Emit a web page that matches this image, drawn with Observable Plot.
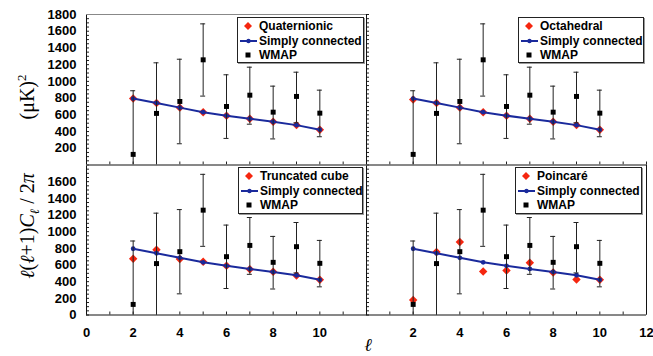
<!DOCTYPE html>
<html><head><meta charset="utf-8">
<script src="https://cdn.jsdelivr.net/npm/d3@7"></script>
<script src="https://cdn.jsdelivr.net/npm/@observablehq/plot@0.6"></script>
<style>
body{margin:0;background:#fff;}
#wrap{position:relative;width:653px;height:356px;overflow:hidden;font-family:"Liberation Sans",Arial,sans-serif;}
#wrap svg.p{position:absolute;left:0;top:0;background:transparent !important;overflow:visible;font-weight:bold;font-size:13px;}
.legend{position:absolute;border:1px solid #222;box-shadow:1px 1px 0 #999;background:#fff;font-weight:bold;font-size:12px;box-sizing:border-box;color:#000;}
.row{position:absolute;left:0;height:14px;line-height:14px;white-space:nowrap;display:flex;align-items:center;}
.row svg{display:block;flex:none;}
.ytitle{position:absolute;font-family:"Liberation Serif","Times New Roman",serif;font-size:20px;line-height:22px;white-space:nowrap;transform:translate(-50%,-50%) rotate(-90deg);color:#000;}
.xtitle{position:absolute;font-family:"Liberation Serif","Times New Roman",serif;font-style:italic;font-size:18px;line-height:18px;transform:translate(-50%,-50%);}
</style>
</head><body>
<div id="wrap"></div>
<script>
// ---- data ----
const ell = [2, 3, 4, 5, 6, 7, 8, 9, 10];
const simplyConnected = [795, 742, 686, 632, 590, 553, 517, 477, 422];
const quaternionic = [795, 742, 686, 632, 590, 553, 517, 477, 422];
const octahedral = [782, 742, 686, 632, 590, 553, 517, 477, 422];
const truncatedCube = [675, 784, 671, 640, 591, 550, 519, 474, 422];
const poincare = [181, 755, 876, 522, 534, 627, 510, 426, 424];
const wmap = [127, 617, 760, 1258, 700, 835, 632, 820, 620];
const wmapHi = [888, 1222, 1265, 1688, 1079, 1170, 943, 1110, 895];
const wmapLo = [0, 0, 254, 824, 318, 488, 312, 505, 338];
const yTicksTop = [200, 400, 600, 800, 1000, 1200, 1400, 1600, 1800];
const yTicksBottom = [0, 200, 400, 600, 800, 1000, 1200, 1400, 1600];
const xTicksLeft = [0, 2, 4, 6, 8, 10];
const xTicksRight = [2, 4, 6, 8, 10, 12];
const yMinor = d3.range(0, 1801, 50);
const xMinor = d3.range(0, 13, 1);
const modelNames = ["Quaternionic", "Octahedral", "Truncated cube", "Poincaré"];

const RED = "#f5260f", BLUE = "#1a2a9c";
const W = 653, H = 356;
const wrap = document.getElementById("wrap");

function panel(model, o) {
  const rows = ell.map((l, i) => ({l, sc: simplyConnected[i], m: model[i], w: wmap[i], hi: wmapHi[i], lo: wmapLo[i]}));
  const fw = W - o.ml - o.mr, fh = H - o.mt - o.mb;
  const marks = [
    Plot.tickY(yMinor, {y: d => d, insetRight: fw - 3, stroke: "#222"}),
    Plot.tickX(xMinor, {x: d => d, insetTop: fh - 3, stroke: "#222"}),
    Plot.ruleX(o.vlines, {stroke: "#111"}),
    Plot.ruleY([0], {stroke: "#111"}),
  ];
  if (o.top) marks.push(Plot.ruleY([1800], {stroke: "#888"}));
  if (o.yTicks) marks.push(Plot.axisY({anchor: "left", ticks: o.yTicks, tickFormat: d => String(d), tickSize: 0, tickPadding: 10, label: null, fontSize: 13, fontWeight: "bold"}));
  if (o.xTicks) marks.push(Plot.axisX({anchor: "bottom", ticks: o.xTicks, tickFormat: d => String(d), tickSize: 0, tickPadding: 13, label: null, fontSize: 13, fontWeight: "bold"}));
  marks.push(
    Plot.dot(rows, {x: "l", y: "m", symbol: "diamond2", r: 3.8, fill: RED}),
    Plot.line(rows, {x: "l", y: "sc", stroke: BLUE, strokeWidth: 2}),
    Plot.dot(rows, {x: "l", y: "sc", r: 2.4, fill: BLUE}),
    Plot.ruleX(rows, {x: "l", y1: "lo", y2: "hi", stroke: "#222", strokeWidth: 1}),
    Plot.ruleY(rows, {y: "hi", x1: "l", x2: "l", insetLeft: -2.5, insetRight: -2.5, stroke: "#222"}),
    Plot.ruleY(rows.filter(d => d.lo > 0), {y: "lo", x1: "l", x2: "l", insetLeft: -2.5, insetRight: -2.5, stroke: "#222"}),
    Plot.dot(rows, {x: "l", y: "w", symbol: "square", r: 2.8, fill: "#000"})
  );
  const svg = Plot.plot({
    width: W, height: H,
    marginLeft: o.ml, marginRight: o.mr, marginTop: o.mt, marginBottom: o.mb,
    x: {domain: [0, 12], axis: null},
    y: {domain: [0, 1800], axis: null},
    style: {fontFamily: "'Liberation Sans', Arial, sans-serif", fontWeight: "bold", fontSize: "13px", color: "#000"},
    marks
  });
  svg.classList.add("p");
  wrap.appendChild(svg);
}

const TOP = 14, MID = 164.5, BOT = 314.5, L = 86, C = 366, R = 646;
panel(quaternionic, {ml: L, mr: W - C, mt: TOP, mb: H - MID, yTicks: yTicksTop, vlines: [0, 12], top: true});
panel(octahedral, {ml: C, mr: W - R, mt: TOP, mb: H - MID, vlines: [0], top: false});
panel(truncatedCube, {ml: L, mr: W - C, mt: MID, mb: H - BOT, yTicks: yTicksBottom, xTicks: xTicksLeft, vlines: [0, 12], top: true});
panel(poincare, {ml: C, mr: W - R, mt: MID, mb: H - BOT, xTicks: xTicksRight, vlines: [0, 12], top: true});

// ---- legends ----
const symDiamond = `<svg width="21" height="14"><path d="M10,3 L14,7 L10,11 L6,7Z" fill="${RED}"/></svg>`;
const symLine = `<svg width="21" height="14"><line x1="2" x2="19" y1="7" y2="7" stroke="${BLUE}" stroke-width="2"/><circle cx="10.5" cy="7" r="2.2" fill="${BLUE}"/></svg>`;
const symSquare = `<svg width="21" height="14"><rect x="7.5" y="4.5" width="5" height="5" fill="#000"/></svg>`;
const legendBoxes = [
  {name: modelNames[0], left: 237, top: 17, w: 127, h: 46},
  {name: modelNames[1], left: 518, top: 17, w: 126, h: 46},
  {name: modelNames[2], left: 238, top: 167, w: 125, h: 47},
  {name: modelNames[3], left: 515, top: 167, w: 127, h: 47},
];
for (const b of legendBoxes) {
  const d = document.createElement("div");
  d.className = "legend";
  Object.assign(d.style, {left: b.left + "px", top: b.top + "px", width: b.w + "px", height: b.h + "px"});
  d.innerHTML =
    `<div class="row" style="top:1px">${symDiamond}<span>${b.name}</span></div>` +
    `<div class="row" style="top:15.5px">${symLine}<span>Simply connected</span></div>` +
    `<div class="row" style="top:29.5px">${symSquare}<span>WMAP</span></div>`;
  wrap.appendChild(d);
}

// ---- axis titles ----
const yt1 = document.createElement("div");
yt1.className = "ytitle";
yt1.style.left = "27px"; yt1.style.top = "226px";
yt1.innerHTML = "<i>ℓ</i>(<i>ℓ</i>+1)<i>C</i><sub style='font-size:13px;line-height:0'><i>ℓ</i></sub> / 2<i>π</i>";
wrap.appendChild(yt1);
const yt2 = document.createElement("div");
yt2.className = "ytitle";
yt2.style.left = "27px"; yt2.style.top = "97px";
yt2.innerHTML = "(μK)<sup style='font-size:13px;line-height:0'>2</sup>";
wrap.appendChild(yt2);
const xt = document.createElement("div");
xt.className = "xtitle";
xt.style.left = "368px"; xt.style.top = "345px";
xt.textContent = "ℓ";
wrap.appendChild(xt);
</script>
</body></html>
